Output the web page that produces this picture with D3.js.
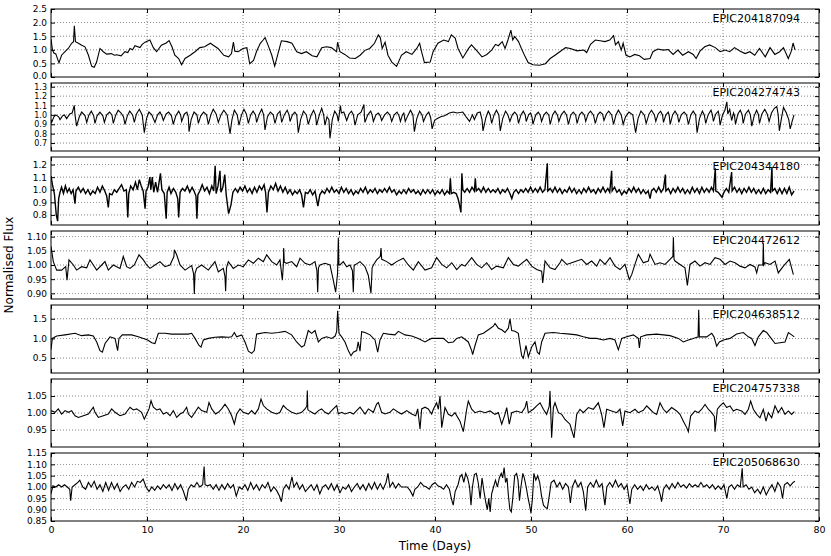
<!DOCTYPE html>
<html><head><meta charset="utf-8">
<script src="https://cdn.jsdelivr.net/npm/d3@7"></script>
<style>
html,body{margin:0;padding:0;background:#fff;}
svg{display:block;font-family:"DejaVu Sans",sans-serif;}
</style></head><body>
<svg id="chart" width="831" height="556"></svg>
<script>
// ---------- data ----------
const panelNames = ["EPIC204187094","EPIC204274743","EPIC204344180","EPIC204472612","EPIC204638512","EPIC204757338","EPIC205068630"];
const xTicks = [0,10,20,30,40,50,60,70,80];
const xDomain = [0,80];

const yDomain1 = [0,2.5],   yTicks1 = [0,0.5,1.0,1.5,2.0,2.5];
const yDomain2 = [0.615,1.34], yTicks2 = [0.7,0.8,0.9,1.0,1.1,1.2,1.3];
const yDomain3 = [0.72,1.26], yTicks3 = [0.8,0.9,1.0,1.1,1.2];
const yDomain4 = [0.88,1.12], yTicks4 = [0.90,0.95,1.00,1.05,1.10];
const yDomain5 = [0.12,1.85], yTicks5 = [0.5,1.0,1.5];
const yDomain6 = [0.90,1.10], yTicks6 = [0.95,1.00,1.05];
const yDomain7 = [0.85,1.15], yTicks7 = [0.85,0.90,0.95,1.00,1.05,1.10,1.15];
const tickFormats = [".1f",".1f",".1f",".2f",".1f",".2f",".2f"];

const flux1 = [[0,1.40],[0.15,1.0],[0.3,0.88],[0.5,0.85],[0.83,0.52],[1.1,0.8],[1.46,0.93],[1.8,1.05],[2.15,1.24],[2.35,1.3],[2.43,1.88],[2.55,1.3],[2.85,1.24],[3.2,1.17],[3.54,1.11],[3.9,0.80],[4.24,0.39],[4.5,0.36],[4.75,0.55],[5.1,1.05],[5.45,0.93],[5.8,0.84],[6.3,0.86],[6.6,0.8],[6.84,0.82],[7.3,0.78],[7.7,0.93],[8.0,0.9],[8.23,1.05],[8.5,1.0],[8.75,1.15],[9.27,1.08],[9.5,1.2],[9.8,1.28],[10.3,1.36],[10.66,1.08],[11.0,0.93],[11.5,1.17],[12.0,1.25],[12.3,1.34],[12.6,1.11],[12.9,0.80],[13.3,0.68],[13.6,0.45],[13.96,0.68],[14.5,0.80],[15.0,0.93],[15.5,1.08],[16.0,1.11],[16.6,1.24],[16.9,1.17],[17.4,1.05],[18.0,0.80],[18.5,0.74],[18.8,0.86],[19.0,1.28],[19.15,0.95],[19.5,0.93],[20.0,1.05],[20.4,1.08],[20.7,0.49],[21.1,0.61],[21.4,0.93],[21.8,1.24],[22.1,1.36],[22.3,1.45],[22.6,1.18],[23.0,0.80],[23.3,0.40],[23.7,0.93],[24.0,1.33],[24.6,1.30],[25.1,1.24],[25.6,0.93],[26.1,0.86],[26.6,0.93],[27.2,0.78],[27.7,0.74],[28.2,1.08],[28.7,1.11],[29.2,1.08],[29.75,0.93],[29.85,1.28],[30.1,0.93],[30.6,0.83],[31.1,0.70],[31.7,0.68],[32.2,0.80],[32.7,0.98],[33.2,1.05],[33.7,1.24],[34.1,1.55],[34.3,1.45],[34.5,1.05],[34.8,1.28],[35.1,0.80],[35.5,0.55],[36.0,0.39],[36.5,0.80],[37.0,0.93],[37.6,0.83],[38.1,1.05],[38.4,1.24],[38.6,0.93],[38.9,0.53],[39.5,0.55],[39.8,0.93],[40.3,1.24],[40.9,1.36],[41.4,1.30],[41.7,1.55],[42.1,1.43],[42.4,1.05],[42.9,0.70],[43.5,1.05],[43.8,1.18],[44.3,0.99],[44.9,0.74],[45.4,0.83],[45.9,0.99],[46.3,1.20],[46.6,1.15],[47.0,1.30],[47.3,1.05],[47.6,1.36],[47.9,1.72],[48.1,1.36],[48.3,1.49],[48.7,1.30],[49.0,1.05],[49.4,0.74],[49.7,0.53],[50.2,0.45],[50.9,0.43],[51.5,0.49],[52.0,0.68],[52.5,0.80],[53.0,0.93],[53.6,1.08],[54.1,1.05],[54.8,0.96],[55.5,0.99],[55.8,0.90],[56.2,1.20],[56.7,1.36],[57.2,1.33],[57.7,1.30],[58.2,1.36],[58.6,1.52],[58.8,1.18],[59.1,1.30],[59.4,0.99],[59.6,1.24],[59.9,0.80],[60.3,0.74],[60.8,0.83],[61.3,0.78],[61.8,0.65],[62.4,0.68],[62.7,0.93],[63.2,1.03],[63.8,0.99],[64.3,1.01],[64.8,0.83],[65.3,0.99],[65.8,0.80],[66.4,0.93],[66.9,0.83],[67.2,0.68],[67.6,0.95],[68.1,1.11],[68.6,1.18],[69.2,1.08],[69.7,0.93],[70.2,0.99],[70.7,0.93],[71.2,1.08],[71.8,0.95],[72.3,0.86],[72.8,0.93],[73.3,0.80],[73.8,1.05],[74.4,0.74],[74.9,1.08],[75.4,0.83],[75.9,0.93],[76.3,1.08],[76.8,0.68],[77.1,0.93],[77.3,1.25],[77.5,1.0]];

const flux2 = [[0,0.95],[0.07,0.92],[0.3,0.98],[0.5,1.00],[0.8,0.98],[0.94,0.95],[1.2,0.99],[1.4,1.0],[1.63,0.96],[1.95,1.01],[2.2,1.02],[2.43,1.10],[2.5,1.0],[2.67,0.88],[2.95,0.98],[3.2,1.03],[3.55,0.99],[3.72,0.92],[3.95,1.0],[4.2,1.04],[4.45,0.99],[4.58,0.91],[4.8,0.99],[5.1,1.03],[5.4,0.99],[5.56,0.92],[5.8,1.0],[6.1,1.03],[6.35,1.0],[6.49,0.91],[6.75,1.0],[7.0,1.05],[7.3,1.02],[7.55,0.98],[7.71,0.90],[7.95,0.99],[8.2,1.04],[8.5,1.0],[8.68,0.92],[8.9,1.01],[9.2,1.06],[9.5,1.0],[9.72,0.81],[9.95,0.96],[10.2,1.03],[10.5,1.0],[10.83,0.92],[11.1,1.0],[11.35,1.03],[11.55,0.99],[11.70,0.94],[12.0,1.01],[12.25,1.03],[12.55,0.99],[12.74,0.90],[13.0,0.99],[13.3,1.04],[13.5,1.0],[13.61,0.93],[13.9,1.01],[14.15,1.03],[14.3,0.98],[14.38,0.82],[14.6,0.95],[14.9,1.03],[15.2,1.0],[15.35,0.91],[15.6,0.99],[15.9,1.03],[16.2,1.0],[16.39,0.90],[16.65,1.0],[16.9,1.06],[17.2,1.01],[17.43,0.92],[17.7,1.0],[18.0,1.05],[18.35,1.0],[18.65,0.80],[18.85,0.95],[19.1,1.05],[19.4,1.0],[19.58,0.89],[19.85,1.0],[20.1,1.06],[20.35,1.01],[20.56,0.91],[20.8,1.0],[21.05,1.04],[21.3,1.0],[21.42,0.92],[21.7,1.01],[21.95,1.06],[22.15,1.0],[22.29,0.84],[22.55,0.98],[22.85,1.03],[23.15,1.0],[23.33,0.91],[23.6,1.01],[23.85,1.04],[23.95,0.98],[24.03,0.92],[24.3,1.0],[24.6,1.05],[24.8,1.0],[24.90,0.93],[25.15,1.0],[25.4,1.03],[25.6,1.0],[25.76,0.81],[26.0,0.95],[26.3,1.04],[26.6,1.0],[26.8,0.90],[27.1,1.0],[27.35,1.05],[27.55,1.0],[27.67,0.89],[27.95,1.0],[28.2,1.07],[28.4,1.0],[28.54,0.89],[28.75,0.98],[28.95,0.95],[29.06,0.75],[29.3,0.95],[29.55,1.04],[29.8,1.0],[29.93,0.93],[30.15,1.10],[30.25,1.02],[30.5,1.03],[30.8,0.94],[31.05,1.01],[31.3,1.04],[31.5,1.0],[31.67,0.89],[31.95,1.0],[32.3,1.03],[32.6,1.11],[32.65,0.98],[32.7,0.92],[33.0,1.0],[33.3,1.04],[33.45,1.0],[33.58,0.93],[33.85,1.0],[34.1,1.02],[34.3,0.99],[34.44,0.94],[34.75,1.0],[35.05,1.03],[35.3,1.0],[35.49,0.93],[35.75,1.0],[36.05,1.03],[36.25,0.99],[36.4,0.93],[36.6,1.0],[36.75,1.02],[36.9,0.93],[37.2,1.0],[37.45,1.05],[37.7,1.0],[37.85,0.82],[38.1,0.96],[38.4,1.04],[38.65,1.0],[38.8,0.93],[39.1,1.0],[39.35,1.03],[39.55,0.97],[39.7,0.85],[39.95,0.94],[40.2,0.96],[40.6,0.98],[41.0,0.99],[41.5,1.02],[41.9,1.03],[42.3,1.02],[42.9,1.03],[43.3,0.97],[43.6,0.93],[43.9,1.0],[44.1,0.95],[44.4,1.02],[44.7,1.03],[44.9,0.95],[45.0,0.83],[45.3,0.97],[45.55,1.04],[45.75,1.0],[45.9,0.91],[46.15,1.0],[46.4,1.05],[46.65,1.0],[46.8,0.83],[47.05,0.96],[47.35,1.04],[47.6,1.0],[47.8,0.93],[48.05,1.0],[48.3,1.03],[48.55,1.0],[48.7,0.91],[48.95,1.0],[49.2,1.04],[49.4,1.0],[49.5,0.93],[49.75,1.0],[49.95,1.02],[50.1,0.98],[50.2,0.90],[50.5,1.0],[50.75,1.03],[50.95,1.0],[51.1,0.93],[51.35,1.0],[51.6,1.03],[51.85,1.0],[52.0,0.90],[52.25,1.0],[52.5,1.04],[52.75,1.0],[52.9,0.93],[53.15,1.0],[53.45,1.04],[53.7,1.0],[53.9,0.90],[54.15,1.0],[54.4,1.03],[54.65,1.0],[54.8,0.91],[55.05,1.0],[55.3,1.03],[55.55,1.0],[55.7,0.93],[55.95,1.01],[56.2,1.04],[56.5,1.0],[56.7,0.91],[56.95,1.0],[57.2,1.03],[57.45,1.01],[57.6,0.94],[57.85,1.01],[58.1,1.04],[58.4,1.0],[58.6,0.90],[58.85,1.0],[59.1,1.05],[59.4,1.0],[59.6,0.90],[59.85,0.98],[60.2,1.03],[60.6,1.0],[60.9,0.81],[61.15,0.96],[61.45,1.04],[61.8,1.0],[62.0,0.91],[62.3,1.01],[62.55,1.05],[62.85,1.0],[63.0,0.93],[63.25,1.01],[63.5,1.04],[63.7,1.0],[63.8,0.92],[64.05,1.0],[64.3,1.03],[64.4,0.99],[64.5,0.90],[64.75,1.0],[65.0,1.04],[65.25,1.0],[65.4,0.92],[65.65,1.0],[65.95,1.03],[66.2,1.0],[66.4,0.90],[66.65,1.0],[66.9,1.04],[67.15,1.0],[67.3,0.81],[67.55,0.96],[67.85,1.04],[68.05,1.0],[68.2,0.91],[68.45,1.0],[68.75,1.05],[68.9,1.0],[69.0,0.93],[69.25,1.01],[69.5,1.04],[69.6,0.99],[69.7,0.89],[69.95,1.0],[70.2,1.05],[70.4,1.14],[70.5,1.01],[70.7,1.06],[70.9,0.94],[71.1,1.02],[71.2,0.99],[71.3,0.90],[71.55,1.01],[71.8,1.05],[72.0,1.0],[72.1,0.91],[72.35,1.01],[72.65,1.05],[72.85,1.0],[73.0,0.88],[73.25,0.99],[73.5,1.05],[73.7,1.0],[73.8,0.91],[74.05,1.01],[74.35,1.06],[74.6,1.01],[74.8,0.93],[75.05,1.02],[75.35,1.07],[75.6,1.09],[75.75,1.0],[75.87,0.83],[76.1,0.97],[76.3,1.08],[76.6,1.02],[76.85,0.95],[77.0,0.85],[77.2,0.93],[77.4,1.0]];

const flux3 = [[0,1.11],[0.15,1.04],[0.35,0.97],[0.55,0.8],[0.69,0.75],[0.8,0.93],[0.94,0.98],[1.1,1.02],[1.3,0.97],[1.5,1.03],[1.7,0.98],[1.9,1.01],[2.1,0.97],[2.3,1.0],[2.5,0.89],[2.6,0.99],[2.85,1.02],[3.1,0.98],[3.35,1.01],[3.6,0.97],[3.85,1.0],[4.1,0.96],[4.35,0.99],[4.6,0.97],[4.85,1.02],[5.1,0.98],[5.35,1.03],[5.6,0.99],[5.8,0.95],[5.97,0.86],[6.1,0.97],[6.35,0.96],[6.6,1.0],[6.85,0.98],[7.1,1.01],[7.35,1.04],[7.6,0.99],[7.85,1.0],[8.0,0.78],[8.1,0.97],[8.3,1.03],[8.55,1.0],[8.8,1.06],[9.0,1.0],[9.2,1.08],[9.4,1.03],[9.6,0.99],[9.8,0.85],[9.9,0.99],[10.1,1.02],[10.3,1.1],[10.4,1.0],[10.55,1.1],[10.7,0.98],[10.9,1.06],[11.1,0.98],[11.4,1.13],[11.55,1.0],[11.8,0.97],[12.0,0.77],[12.1,0.98],[12.3,1.02],[12.5,0.97],[12.75,1.01],[13.0,0.98],[13.2,0.93],[13.3,0.78],[13.45,0.98],[13.7,1.01],[13.95,0.99],[14.2,1.03],[14.45,0.98],[14.7,1.02],[14.9,0.99],[15.1,0.95],[15.2,0.77],[15.3,0.96],[15.5,0.99],[15.75,1.04],[16.0,0.99],[16.25,1.02],[16.5,0.97],[16.75,1.03],[16.95,0.99],[17.1,1.19],[17.2,0.97],[17.4,1.03],[17.6,1.15],[17.7,0.98],[17.9,1.02],[18.1,1.12],[18.25,0.96],[18.5,0.81],[18.75,0.88],[18.95,0.98],[19.2,1.01],[19.45,0.98],[19.7,1.02],[19.95,0.99],[20.2,1.03],[20.45,0.98],[20.7,1.01],[20.95,0.97],[21.2,1.02],[21.45,0.98],[21.7,1.03],[21.95,1.0],[22.2,1.04],[22.35,0.98],[22.5,0.82],[22.65,0.98],[22.9,1.03],[23.15,1.0],[23.4,1.05],[23.65,0.99],[23.9,1.03],[24.15,0.98],[24.4,1.02],[24.65,0.97],[24.9,1.0],[25.15,0.96],[25.4,0.99],[25.65,0.97],[25.9,1.0],[26.1,0.96],[26.3,0.86],[26.5,0.98],[26.75,0.97],[27.0,1.0],[27.25,0.96],[27.5,0.99],[27.8,0.87],[28.0,0.96],[28.25,0.99],[28.5,0.97],[28.75,1.01],[29.0,0.98],[29.25,1.02],[29.5,0.98],[29.75,1.0],[30.0,0.97],[30.25,1.02],[30.5,0.98],[30.75,1.01],[31.0,0.97],[31.25,1.0],[31.5,0.96],[31.75,0.99],[32.0,0.97],[32.25,1.01],[32.5,0.98],[32.75,1.02],[33.0,0.97],[33.25,1.0],[33.5,0.98],[33.75,1.01],[34.0,0.97],[34.25,1.0],[34.5,0.98],[34.75,1.01],[35.0,0.98],[35.25,1.02],[35.5,0.98],[35.75,1.0],[36.0,0.96],[36.25,0.99],[36.5,0.97],[36.75,1.0],[37.0,0.97],[37.25,1.01],[37.5,0.98],[37.75,1.0],[38.0,0.97],[38.25,0.99],[38.5,0.96],[38.75,1.0],[39.0,0.97],[39.25,1.0],[39.5,0.97],[39.75,1.0],[40.0,0.96],[40.25,0.99],[40.5,0.97],[40.75,1.0],[41.0,0.96],[41.25,0.99],[41.5,0.97],[41.6,1.09],[41.7,0.97],[41.95,0.98],[42.2,0.97],[42.4,0.93],[42.55,0.88],[42.7,0.82],[42.8,1.13],[42.9,1.0],[43.1,0.98],[43.35,1.01],[43.6,0.98],[43.85,1.02],[44.1,0.99],[44.2,1.09],[44.3,0.99],[44.55,1.01],[44.8,0.98],[45.05,1.02],[45.3,0.98],[45.55,1.01],[45.8,0.98],[46.05,1.0],[46.3,0.98],[46.55,1.01],[46.8,0.97],[47.05,1.0],[47.3,0.98],[47.55,1.01],[47.8,0.97],[48.0,0.93],[48.2,0.98],[48.45,1.0],[48.7,0.97],[48.95,1.0],[49.2,0.98],[49.45,1.01],[49.7,0.98],[49.95,1.02],[50.2,0.98],[50.45,1.01],[50.7,0.98],[50.95,1.02],[51.2,0.98],[51.45,1.0],[51.7,1.21],[51.75,0.99],[52.0,1.01],[52.25,0.98],[52.5,1.02],[52.75,0.98],[53.0,1.01],[53.25,0.97],[53.5,1.0],[53.75,0.98],[54.0,1.02],[54.25,0.98],[54.5,1.01],[54.75,0.97],[55.0,1.0],[55.25,0.97],[55.5,1.01],[55.75,0.98],[56.0,1.02],[56.25,0.98],[56.5,1.0],[56.75,0.97],[57.0,1.01],[57.25,0.98],[57.5,1.02],[57.75,0.98],[58.0,1.01],[58.2,0.98],[58.4,1.15],[58.45,0.99],[58.7,1.02],[58.95,0.98],[59.2,1.0],[59.45,0.96],[59.7,0.99],[59.95,0.97],[60.2,1.01],[60.45,0.98],[60.7,1.02],[60.95,0.98],[61.2,1.01],[61.45,0.97],[61.7,1.0],[61.95,0.97],[62.2,0.99],[62.4,0.93],[62.55,0.99],[62.8,1.01],[63.05,0.98],[63.3,1.02],[63.55,0.98],[63.8,1.01],[64.0,1.12],[64.05,0.99],[64.3,1.01],[64.55,0.97],[64.8,1.01],[65.05,0.98],[65.3,1.02],[65.55,0.98],[65.8,1.01],[66.05,0.97],[66.3,1.0],[66.55,0.97],[66.8,1.02],[67.05,0.98],[67.3,1.01],[67.55,0.97],[67.8,1.02],[68.05,0.98],[68.3,1.01],[68.55,0.98],[68.8,1.02],[69.0,0.99],[69.2,1.17],[69.25,0.99],[69.5,0.98],[69.9,0.94],[70.1,0.98],[70.35,1.01],[70.6,0.98],[70.9,1.14],[70.95,0.99],[71.2,1.02],[71.45,0.98],[71.7,1.01],[71.95,0.97],[72.2,1.01],[72.45,0.98],[72.7,1.02],[72.95,0.98],[73.2,1.01],[73.45,0.97],[73.7,1.0],[73.95,0.97],[74.2,1.01],[74.45,0.97],[74.7,1.0],[74.95,0.98],[75.1,1.18],[75.15,0.99],[75.4,1.01],[75.65,0.97],[75.9,1.01],[76.15,0.97],[76.4,1.01],[76.65,0.97],[76.9,1.02],[77.15,0.96],[77.4,0.99]];

const flux4 = [[0,1.066],[0.24,1.012],[0.59,0.982],[1.11,0.982],[1.53,0.994],[1.67,0.946],[1.875,1.018],[2.33,1.0],[2.67,0.982],[3.19,0.994],[3.72,0.99],[4.06,1.018],[4.41,1.0],[4.76,0.982],[5.28,1.0],[5.625,1.012],[5.97,0.982],[6.49,1.0],[6.84,0.994],[7.19,0.988],[7.53,1.03],[7.88,0.994],[8.23,0.988],[8.68,1.0],[9.17,1.036],[9.62,1.018],[9.97,1.0],[10.31,0.988],[10.83,1.0],[11.35,1.012],[11.875,0.994],[12.4,1.0],[12.8,1.03],[12.85,1.054],[13.09,1.036],[13.44,1.0],[13.96,0.982],[14.65,0.998],[14.85,0.97],[14.93,0.898],[15.0,0.97],[15.17,0.988],[15.69,1.0],[16.39,0.982],[17.08,1.012],[17.43,0.976],[17.95,0.988],[18.12,0.96],[18.19,0.907],[18.28,0.99],[18.47,1.012],[18.99,0.988],[19.51,1.0],[20.03,0.994],[20.56,1.018],[21.08,1.006],[21.6,1.024],[22.12,1.012],[22.47,1.036],[22.99,1.012],[23.51,1.0],[23.85,1.018],[24.1,0.946],[24.2,1.0],[24.24,1.06],[24.3,1.01],[24.55,1.006],[25.07,1.012],[25.59,0.994],[25.94,1.024],[26.46,1.006],[26.98,1.0],[27.5,1.012],[27.7,0.98],[27.78,0.904],[27.86,0.99],[28.02,1.0],[28.54,1.006],[29.06,1.0],[29.41,0.946],[29.65,0.904],[29.85,0.97],[29.93,1.096],[29.99,1.0],[30.1,1.0],[30.45,1.012],[30.8,0.994],[31.15,1.0],[31.4,0.98],[31.49,0.904],[31.58,1.0],[31.67,1.0],[32.19,1.012],[32.71,0.994],[33.05,0.964],[33.33,0.9],[33.45,0.99],[33.58,1.0],[33.92,1.018],[34.3,1.03],[34.375,1.06],[34.45,1.02],[34.62,1.018],[34.97,1.012],[35.49,1.0],[36.0,1.012],[36.7,1.024],[37.22,1.0],[37.74,0.982],[38.26,1.012],[38.96,0.982],[39.65,0.99],[40.17,1.026],[40.7,1.002],[41.22,0.99],[41.74,1.008],[42.26,0.984],[42.78,1.002],[43.13,0.996],[43.82,1.026],[44.34,1.002],[44.86,0.99],[45.38,1.008],[45.9,0.984],[46.42,0.996],[47.12,0.99],[47.64,1.026],[48.16,1.002],[48.68,0.996],[49.55,1.02],[50.07,0.996],[50.59,0.984],[51.11,0.978],[51.22,0.937],[51.46,1.014],[51.98,0.99],[52.5,0.984],[53.02,1.008],[53.2,1.02],[53.72,1.002],[54.24,1.008],[54.76,1.014],[55.28,1.02],[55.8,1.002],[56.32,1.014],[56.84,0.996],[57.19,1.02],[57.71,1.002],[58.23,1.026],[58.75,0.996],[59.27,0.984],[59.79,1.002],[60.24,0.949],[60.49,0.966],[60.83,1.002],[61.18,1.038],[61.7,1.008],[62.22,1.014],[62.4,1.038],[62.92,1.002],[63.44,1.008],[63.96,1.002],[64.48,1.02],[64.78,1.03],[64.83,1.098],[64.9,1.02],[65.0,1.014],[65.52,1.002],[66.04,0.99],[66.29,0.928],[66.56,1.002],[67.08,1.014],[67.6,0.996],[68.13,1.008],[68.65,1.002],[69.17,1.026],[69.69,1.02],[70.21,1.002],[70.73,1.014],[71.25,1.008],[71.77,0.996],[72.29,0.99],[72.81,1.002],[73.33,0.993],[73.51,0.972],[73.7,1.0],[74.15,1.0],[74.2,1.077],[74.25,1.0],[74.38,1.008],[74.9,1.002],[75.42,1.014],[75.76,0.972],[76.29,0.996],[76.91,1.02],[77.33,0.966]];

const flux5 = [[0,0.71],[0.14,1.0],[0.59,1.06],[1.46,1.09],[2.5,1.13],[3.19,1.07],[3.89,1.09],[4.41,1.06],[4.76,0.91],[5.1,0.69],[5.35,0.65],[5.63,0.87],[6.15,1.04],[6.67,1.0],[6.94,0.69],[7.08,1.0],[7.43,1.09],[8.4,1.09],[9.1,1.04],[9.62,1.0],[10.07,0.96],[10.49,0.89],[10.83,0.87],[11.18,1.13],[11.875,1.13],[12.57,1.11],[13.26,1.11],[14.3,1.11],[14.65,1.13],[15.0,1.0],[15.42,0.82],[15.625,0.78],[15.87,0.96],[16.39,1.0],[17.08,1.03],[17.78,1.04],[18.47,1.03],[18.82,1.04],[19.1,1.15],[19.34,1.04],[19.86,1.09],[20.21,0.91],[20.56,0.675],[20.9,0.62],[21.18,0.69],[21.42,1.11],[22.29,1.15],[22.99,1.13],[23.68,1.15],[24.375,1.18],[25.07,1.09],[25.59,0.91],[26.11,0.78],[26.39,0.82],[26.8,1.2],[27.15,1.13],[27.5,1.2],[27.85,0.91],[28.2,1.0],[28.7,1.04],[29.24,1.0],[29.6,1.06],[29.76,1.18],[29.86,1.70],[30.0,1.13],[30.28,1.04],[30.625,0.91],[30.97,0.69],[31.25,0.56],[31.49,0.65],[31.84,0.69],[32.0,0.91],[32.19,0.675],[32.36,1.17],[32.71,1.15],[33.23,1.09],[33.75,0.96],[34.03,0.65],[34.27,0.96],[34.62,1.13],[35.14,1.11],[35.83,1.09],[36.18,1.18],[36.875,1.09],[37.57,1.06],[38.26,1.0],[38.96,0.91],[39.3,0.96],[39.65,1.0],[40.17,1.0],[40.87,1.0],[41.39,0.89],[41.91,0.91],[42.26,1.0],[42.78,1.04],[43.47,0.91],[43.82,0.69],[43.92,0.59],[44.17,0.82],[44.51,1.09],[45.04,1.13],[45.56,1.22],[46.08,1.31],[46.25,1.38],[46.6,1.26],[46.95,1.22],[47.29,1.15],[47.64,1.26],[47.81,1.5],[47.99,1.2],[48.33,1.18],[48.68,1.13],[48.86,0.82],[49.03,0.56],[49.2,0.5],[49.48,0.82],[49.72,0.53],[50.07,0.78],[50.42,0.91],[50.66,0.65],[50.87,0.6],[51.11,0.91],[51.46,1.13],[52.33,1.15],[53.02,1.13],[54.06,1.11],[54.76,1.09],[55.45,1.04],[56.15,1.0],[56.84,1.0],[57.54,0.96],[58.23,1.0],[58.75,0.96],[59.1,0.71],[59.45,1.0],[59.97,1.04],[60.66,1.09],[61.18,1.0],[61.29,0.76],[61.42,1.04],[62.05,1.09],[63.09,1.11],[63.79,1.09],[64.48,1.07],[65.35,1.0],[65.87,0.91],[66.39,0.96],[66.91,1.0],[67.26,1.03],[67.4,1.03],[67.47,1.73],[67.54,1.04],[68.3,1.04],[68.82,1.13],[69.06,1.04],[69.34,0.8],[69.62,0.91],[70.04,0.96],[70.73,1.0],[71.42,1.11],[72.12,1.15],[72.64,1.04],[72.99,1.0],[73.33,0.82],[73.68,1.04],[74.2,1.2],[74.55,1.15],[74.9,1.04],[75.42,0.87],[75.94,0.89],[76.46,0.91],[76.81,1.15],[77.15,1.09],[77.43,1.04]];

const flux6 = [[0,1.007],[0.42,1.002],[0.76,1.012],[1.11,0.997],[1.46,1.007],[1.81,1.002],[2.15,1.007],[2.5,0.992],[2.85,0.987],[3.37,0.992],[3.89,0.997],[4.41,1.017],[4.58,1.002],[4.93,0.987],[5.45,0.992],[5.97,0.997],[6.32,1.012],[6.67,1.002],[7.19,0.992],[7.71,0.997],[8.23,1.017],[8.58,1.009],[8.92,1.012],[9.44,1.002],[9.72,0.982],[9.97,0.997],[10.21,1.012],[10.42,1.036],[10.66,1.017],[11.01,1.009],[11.35,1.012],[11.7,0.997],[12.05,1.002],[12.4,0.992],[12.74,1.007],[13.09,0.987],[13.44,0.997],[13.78,1.002],[14.13,1.017],[14.31,0.997],[14.65,0.987],[15.0,1.002],[15.35,1.017],[15.69,1.007],[16.22,1.002],[16.46,1.031],[16.74,1.012],[17.15,0.997],[17.43,1.002],[17.78,1.012],[18.125,1.026],[18.47,1.012],[18.82,0.992],[19.1,0.968],[19.34,0.997],[19.69,1.012],[20.03,1.002],[20.56,0.997],[20.9,1.007],[21.25,0.997],[21.6,1.012],[21.875,1.041],[22.12,1.022],[22.47,1.012],[22.99,1.002],[23.51,0.997],[23.85,1.002],[24.2,1.022],[24.55,1.012],[25.07,1.002],[25.59,0.997],[26.11,1.002],[26.46,1.012],[26.65,1.02],[26.7,1.066],[26.75,1.01],[26.875,1.007],[27.15,1.002],[27.5,0.997],[27.85,1.007],[28.19,1.012],[28.54,1.002],[28.89,0.997],[29.41,1.012],[29.76,1.022],[29.93,0.997],[30.28,1.002],[30.625,0.997],[31.15,1.002],[31.49,0.997],[31.84,1.007],[32.19,1.017],[32.71,0.997],[33.06,1.012],[33.58,1.002],[33.92,1.026],[34.1,1.031],[34.44,1.002],[34.79,0.997],[35.31,1.002],[35.66,1.012],[36.18,1.002],[36.53,0.997],[37.05,1.007],[37.57,0.997],[37.99,0.992],[38.2,1.012],[38.44,0.953],[38.61,1.012],[38.96,1.017],[39.3,1.012],[39.65,0.997],[39.83,1.011],[40.17,1.03],[40.35,1.011],[40.52,1.05],[40.7,0.957],[41.04,1.016],[41.39,0.996],[41.74,0.991],[42.08,1.001],[42.6,0.976],[42.95,0.945],[43.3,1.011],[43.47,1.035],[43.82,1.011],[44.17,1.001],[44.69,1.006],[45.21,1.001],[45.73,1.006],[46.25,0.996],[46.6,1.001],[46.95,0.967],[47.29,0.996],[47.47,1.016],[47.74,0.967],[47.99,1.001],[48.51,1.006],[49.03,1.001],[49.38,1.016],[49.55,1.035],[49.72,1.001],[50.24,1.011],[50.59,1.021],[50.94,1.03],[51.29,1.011],[51.63,0.996],[51.9,1.02],[51.98,1.065],[52.15,0.927],[52.33,1.016],[52.5,1.03],[52.85,1.001],[53.2,0.996],[53.54,0.981],[54.06,0.967],[54.48,0.927],[54.76,0.996],[55.1,1.011],[55.45,1.001],[55.97,1.016],[56.49,1.011],[57.01,1.03],[57.36,0.996],[57.6,0.957],[57.88,1.011],[58.4,1.006],[58.92,1.001],[59.27,1.011],[59.55,0.962],[59.79,1.006],[60.31,1.001],[60.83,1.011],[61.18,1.001],[61.7,1.008],[62.05,1.021],[62.4,1.011],[62.74,1.001],[63.09,0.996],[63.44,1.03],[63.79,1.011],[64.13,1.001],[64.65,1.016],[65.17,1.006],[65.52,0.996],[65.87,0.976],[66.22,0.957],[66.39,0.945],[66.63,0.991],[67.08,1.006],[67.43,1.001],[67.78,1.011],[68.13,1.025],[68.47,1.011],[68.82,1.001],[69.1,0.99],[69.17,0.945],[69.41,1.011],[69.69,1.021],[70.04,1.03],[70.38,1.016],[70.73,1.021],[71.08,1.006],[71.42,1.011],[71.94,1.006],[72.29,0.996],[72.64,1.011],[72.88,1.035],[73.16,1.011],[73.51,0.996],[73.85,0.986],[74.2,1.011],[74.48,0.976],[74.72,1.001],[75.07,0.986],[75.42,1.021],[75.76,1.001],[76.11,1.016],[76.46,0.996],[76.81,1.006],[77.15,0.996],[77.43,1.004]];

const flux7 = [[0,0.97],[0.2,1.005],[0.5,1.0],[0.8,1.01],[1.1,1.0],[1.4,1.01],[1.7,1.0],[1.95,0.99],[2.05,0.94],[2.2,1.0],[2.5,1.01],[2.8,1.02],[3.0,1.03],[3.3,1.0],[3.6,0.99],[3.9,1.02],[4.2,1.0],[4.5,1.025],[4.8,0.99],[5.1,1.01],[5.4,0.98],[5.7,1.02],[6.0,0.985],[6.3,1.02],[6.6,0.99],[6.9,1.015],[7.2,0.98],[7.5,1.0],[7.8,1.01],[8.1,0.99],[8.4,1.02],[8.7,1.0],[9.0,1.025],[9.3,1.02],[9.6,1.035],[9.9,1.0],[10.2,0.98],[10.5,1.0],[10.8,0.985],[11.1,1.005],[11.4,0.99],[11.7,1.01],[12.0,0.995],[12.3,1.01],[12.6,0.985],[12.9,1.015],[13.2,0.99],[13.5,1.01],[13.8,0.98],[14.1,0.94],[14.3,0.99],[14.6,1.01],[14.9,1.0],[15.2,1.02],[15.5,1.0],[15.8,1.01],[15.95,1.09],[16.05,1.01],[16.3,1.005],[16.6,1.01],[16.9,0.99],[17.2,1.01],[17.5,0.985],[17.8,1.01],[18.1,0.99],[18.4,1.015],[18.7,0.995],[19.0,1.01],[19.3,0.96],[19.6,1.0],[19.9,0.99],[20.2,1.01],[20.5,0.985],[20.8,1.02],[21.1,0.99],[21.4,1.01],[21.7,0.985],[22.0,1.01],[22.3,0.995],[22.6,1.02],[22.9,0.98],[23.2,1.0],[23.5,0.985],[23.8,0.96],[24.0,0.935],[24.2,0.99],[24.5,1.01],[24.8,0.99],[25.1,1.045],[25.3,1.0],[25.6,1.02],[25.9,0.99],[26.2,1.01],[26.5,0.98],[26.8,0.995],[27.1,1.01],[27.4,0.985],[27.7,1.01],[28.0,0.97],[28.3,1.0],[28.6,1.01],[28.9,0.99],[29.2,1.015],[29.5,0.985],[29.8,1.01],[30.1,0.975],[30.4,1.0],[30.7,0.99],[31.0,1.01],[31.3,0.98],[31.6,1.0],[31.9,1.015],[32.2,0.99],[32.5,1.01],[32.8,0.985],[33.1,1.015],[33.4,0.99],[33.7,1.02],[34.0,0.99],[34.3,1.015],[34.6,0.99],[34.9,1.02],[35.1,1.06],[35.3,1.0],[35.6,1.02],[35.9,0.995],[36.2,1.015],[36.5,1.0],[36.8,1.0],[37.1,1.0],[37.4,0.985],[37.7,0.96],[37.9,0.99],[38.2,1.0],[38.5,1.02],[38.8,1.005],[39.1,1.0],[39.4,0.99],[39.7,1.01],[40.0,1.02],[40.3,1.005],[40.6,1.0],[40.9,0.99],[41.2,1.01],[41.5,0.99],[41.7,0.95],[41.9,0.92],[42.1,0.98],[42.4,1.01],[42.6,1.045],[42.8,1.055],[43.0,1.02],[43.2,1.06],[43.4,1.04],[43.6,1.0],[43.75,0.92],[43.9,1.0],[44.1,1.055],[44.3,1.06],[44.5,1.02],[44.7,0.95],[44.9,1.04],[45.1,0.98],[45.3,0.93],[45.45,0.9],[45.6,0.95],[45.75,0.89],[45.9,0.97],[46.1,1.0],[46.3,1.03],[46.5,1.0],[46.7,1.04],[46.9,1.06],[47.05,1.04],[47.2,1.086],[47.35,1.02],[47.5,1.04],[47.65,0.96],[47.8,0.9],[47.95,0.89],[48.1,0.95],[48.3,1.05],[48.5,1.06],[48.65,1.03],[48.8,0.94],[48.95,1.0],[49.15,1.06],[49.3,1.04],[49.5,1.0],[49.7,0.95],[49.85,0.92],[50.0,0.885],[50.15,0.95],[50.3,1.06],[50.5,1.03],[50.7,1.05],[50.9,1.02],[51.1,0.96],[51.3,0.92],[51.5,0.91],[51.7,0.905],[51.9,0.96],[52.1,1.02],[52.4,1.03],[52.7,1.0],[53.0,1.02],[53.3,0.99],[53.6,1.015],[53.9,1.0],[54.1,0.93],[54.3,1.0],[54.6,1.03],[54.9,1.0],[55.2,1.02],[55.45,0.98],[55.7,0.895],[55.9,1.0],[56.2,1.02],[56.5,1.0],[56.8,1.03],[57.1,1.0],[57.4,1.015],[57.7,0.92],[57.9,1.0],[58.2,1.02],[58.5,1.0],[58.8,1.03],[59.1,1.0],[59.4,1.015],[59.7,0.99],[60.0,1.01],[60.3,0.925],[60.5,0.99],[60.8,1.01],[61.1,0.99],[61.4,1.005],[61.7,0.985],[62.0,1.01],[62.3,0.99],[62.6,1.0],[62.9,0.985],[63.2,1.005],[63.5,0.96],[63.6,0.935],[63.8,0.99],[64.1,1.01],[64.4,0.99],[64.7,1.015],[65.0,0.995],[65.3,1.02],[65.6,1.0],[65.9,1.01],[66.2,0.995],[66.5,1.015],[66.8,1.0],[67.1,1.01],[67.4,1.0],[67.7,1.02],[68.0,1.0],[68.3,1.01],[68.6,0.995],[68.9,1.01],[69.2,0.99],[69.5,1.005],[69.8,0.99],[70.1,1.01],[70.4,0.95],[70.6,1.0],[70.9,1.01],[71.2,0.99],[71.5,1.01],[71.8,1.0],[72.0,1.083],[72.1,1.0],[72.4,1.01],[72.7,0.99],[73.0,1.0],[73.3,0.975],[73.6,0.99],[73.9,0.97],[74.2,1.0],[74.5,0.965],[74.8,0.99],[75.1,1.01],[75.4,0.98],[75.7,1.02],[76.0,1.0],[76.2,0.95],[76.4,1.01],[76.7,1.02],[77.0,1.005],[77.3,1.02],[77.5,1.026]];

const lineWidths = [1.1,1.1,1.4,1.1,1.1,1.1,1.1];
const tickFontSizes = [9,8,9,9,9,9,9];

// ---------- layout ----------
const panels = [
  {name: panelNames[0], data: flux1, dom: yDomain1, ticks: yTicks1, fmt: tickFormats[0]},
  {name: panelNames[1], data: flux2, dom: yDomain2, ticks: yTicks2, fmt: tickFormats[1]},
  {name: panelNames[2], data: flux3, dom: yDomain3, ticks: yTicks3, fmt: tickFormats[2]},
  {name: panelNames[3], data: flux4, dom: yDomain4, ticks: yTicks4, fmt: tickFormats[3]},
  {name: panelNames[4], data: flux5, dom: yDomain5, ticks: yTicks5, fmt: tickFormats[4]},
  {name: panelNames[5], data: flux6, dom: yDomain6, ticks: yTicks6, fmt: tickFormats[5]},
  {name: panelNames[6], data: flux7, dom: yDomain7, ticks: yTicks7, fmt: tickFormats[6]}
];

const left = 51, right = 819, top0 = 9, step = 74, ph = 68;
const svg = d3.select("#chart");
const x = d3.scaleLinear().domain(xDomain).range([left, right]);

panels.forEach((p, i) => {
  const top = top0 + i * step, bottom = top + ph;
  const y = d3.scaleLinear().domain(p.dom).range([bottom, top]);
  const g = svg.append("g");

  g.selectAll("line.vg").data(xTicks.filter(t => t > xDomain[0] && t < xDomain[1])).join("line")
    .attr("x1", d => x(d)).attr("x2", d => x(d)).attr("y1", top).attr("y2", bottom)
    .attr("stroke", "#000").attr("stroke-width", 0.6).attr("stroke-dasharray", "1,2").attr("opacity", 0.8);
  g.selectAll("line.hg").data(p.ticks.filter(t => y(t) > top + 0.5 && y(t) < bottom - 0.5)).join("line")
    .attr("x1", left).attr("x2", right).attr("y1", d => y(d)).attr("y2", d => y(d))
    .attr("stroke", "#000").attr("stroke-width", 0.6).attr("stroke-dasharray", "1,2").attr("opacity", 0.8);

  const cid = "clip" + i;
  svg.append("defs").append("clipPath").attr("id", cid)
    .append("rect").attr("x", left).attr("y", top).attr("width", right - left).attr("height", ph);

  const line = d3.line().x(d => x(d[0])).y(d => y(d[1]));
  g.append("path").datum(p.data).attr("d", line).attr("clip-path", `url(#${cid})`)
    .attr("fill", "none").attr("stroke", "#000").attr("stroke-width", lineWidths[i]).attr("stroke-linejoin", "miter");

  const fmt = d3.format(p.fmt);
  const ya = g.append("g").attr("transform", `translate(${left},0)`)
    .call(d3.axisLeft(y).tickValues(p.ticks).tickFormat(fmt).tickSize(-4).tickPadding(4));
  // lift a bottom-edge label slightly when its neighbours leave room
  const spacing = Math.abs(y(p.ticks[1]) - y(p.ticks[0]));
  ya.selectAll(".tick text").attr("y", d => (Math.abs(y(d) - bottom) < 0.5 && spacing > 12) ? -1.5 : 0);
  const yb = g.append("g").attr("transform", `translate(${right},0)`)
    .call(d3.axisRight(y).tickValues(p.ticks).tickFormat("").tickSize(-4));
  const xa = g.append("g").attr("transform", `translate(0,${bottom})`)
    .call(d3.axisBottom(x).tickValues(xTicks).tickFormat(i === panels.length - 1 ? d3.format("d") : "").tickSize(-4).tickPadding(5));
  const xb = g.append("g").attr("transform", `translate(0,${top})`)
    .call(d3.axisTop(x).tickValues(xTicks).tickFormat("").tickSize(-4));
  [ya, yb, xa, xb].forEach(a => {
    a.select(".domain").remove();
    a.selectAll("text").attr("font-family", "DejaVu Sans, sans-serif").attr("font-size", tickFontSizes[i]).attr("fill", "#000");
    a.selectAll("line").attr("stroke", "#000");
  });
  xa.selectAll("text").attr("font-size", 9.5);

  g.append("rect").attr("x", left).attr("y", top).attr("width", right - left).attr("height", ph)
    .attr("fill", "none").attr("stroke", "#000").attr("stroke-width", 1);

  g.append("text").attr("x", 800).attr("y", top + 13).attr("text-anchor", "end")
    .attr("font-family", "DejaVu Sans, sans-serif").attr("font-size", 11).text(p.name);
});

svg.append("text").attr("transform", `translate(13,${(top0 + top0 + 6 * step + ph) / 2}) rotate(-90)`)
  .attr("text-anchor", "middle").attr("font-family", "DejaVu Sans, sans-serif").attr("font-size", 12)
  .text("Normalised Flux");
svg.append("text").attr("x", (left + right) / 2).attr("y", 550).attr("text-anchor", "middle")
  .attr("font-family", "DejaVu Sans, sans-serif").attr("font-size", 12).text("Time (Days)");
</script>
</body></html>
